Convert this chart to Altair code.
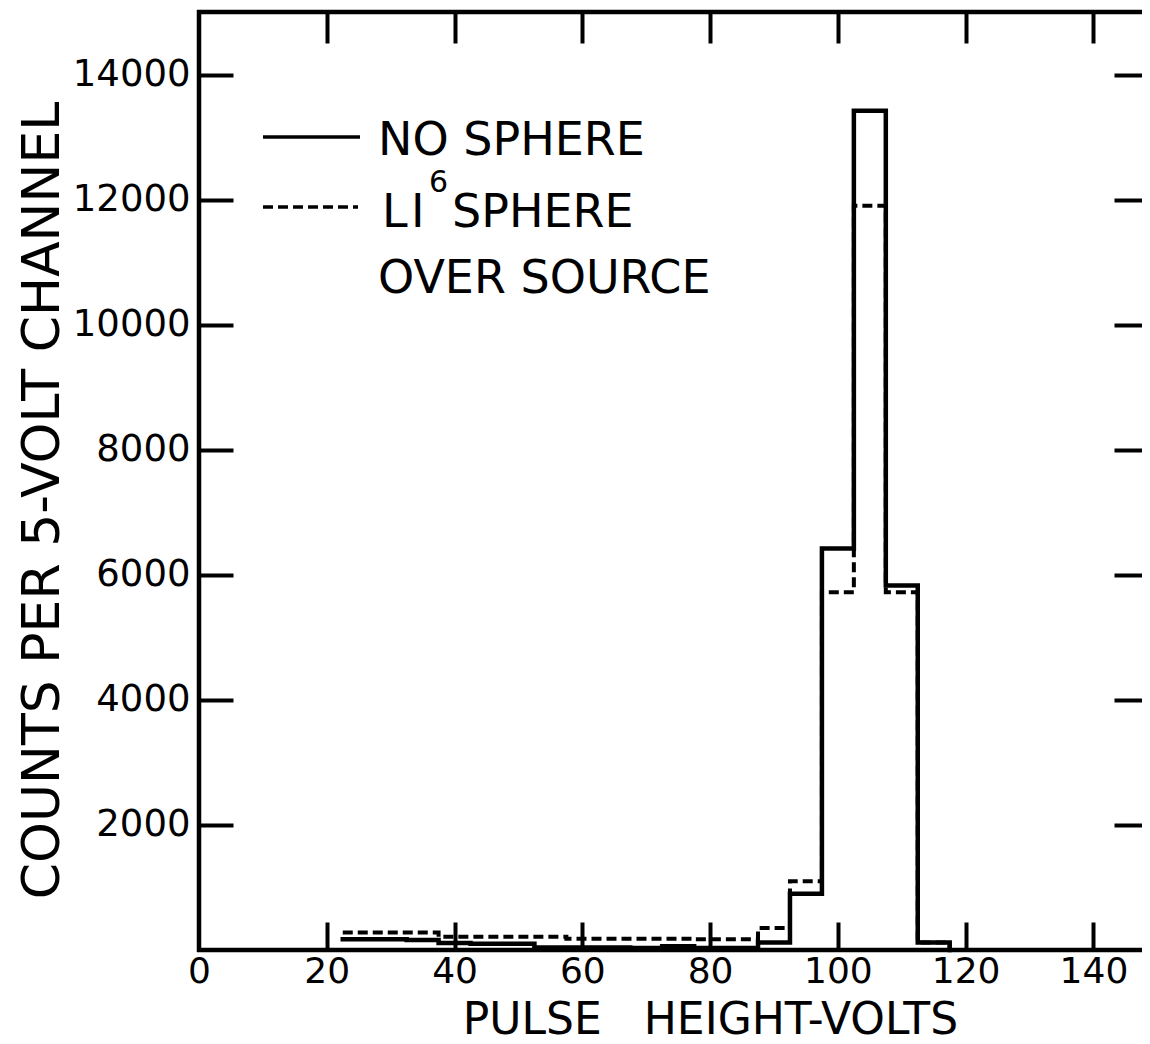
import altair as alt
import pandas as pd

# channel lower edges (volts) and counts per 5-volt channel; last point closes the step to 0
edges = [22.5, 27.5, 32.5, 37.5, 42.5, 47.5, 52.5, 57.5, 62.5, 67.5,
         72.5, 77.5, 82.5, 87.5, 92.5, 97.5, 102.5, 107.5, 112.5, 117.5]
no_sphere = [170, 170, 160, 110, 100, 100, 40, 40, 40, 30,
             60, 30, 30, 120, 900, 6420, 13420, 5830, 120, 0]
li6_sphere = [280, 280, 280, 210, 210, 210, 210, 180, 180, 180,
              180, 170, 170, 350, 1100, 5720, 11900, 5720, 120, 0]

x_labels = [0, 20, 40, 60, 80, 100, 120, 140]
x_ticks = [20, 40, 60, 80, 100, 120, 140]
y_labels = [2000, 4000, 6000, 8000, 10000, 12000, 14000]

rows = []
for e, v in zip(edges, no_sphere):
    rows.append({"volts": e, "counts": v, "series": "NO SPHERE"})
for e, v in zip(edges, li6_sphere):
    rows.append({"volts": e, "counts": v, "series": "LI6 SPHERE OVER SOURCE"})
df = pd.DataFrame(rows)

FONT = "DejaVu Sans"
W, H = 943, 938
XDOM = alt.Scale(domain=[0, 147.6], nice=False, zero=False)
YDOM = alt.Scale(domain=[0, 15000], nice=False, zero=False)
NB = "\u00a0"

base = alt.Chart(df)

solid = base.transform_filter(alt.datum.series == "NO SPHERE").mark_line(
    interpolate="step-after", color="black", strokeWidth=4.5, strokeJoin="miter", strokeCap="square"
).encode(
    x=alt.X("volts:Q", scale=XDOM, axis=alt.Axis(
        orient="bottom", values=x_labels, format="d", ticks=False, domain=False, grid=False,
        labelFont=FONT, labelFontSize=36, labelColor="black", labelPadding=4,
        labelFlush=False,
        title="PULSE" + NB * 3 + "HEIGHT-VOLTS", titleFont=FONT, titleFontSize=44,
        titleFontWeight="normal", titleColor="black", titleX=511, titleY=83,
        titleBaseline="alphabetic", titleAlign="center")),
    y=alt.Y("counts:Q", scale=YDOM, axis=alt.Axis(
        orient="left", values=y_labels, format="d", ticks=False, domain=False, grid=False,
        labelFont=FONT, labelFontSize=37, labelColor="black", labelPadding=9,
        labelFlush=False,
        title="COUNTS PER 5-VOLT CHANNEL", titleFont=FONT, titleFontSize=52,
        titleFontWeight="normal", titleColor="black", titleAngle=270,
        titleX=-141, titleY=488, titleBaseline="alphabetic", titleAlign="center")),
)

dashed = base.transform_filter(alt.datum.series != "NO SPHERE").mark_line(
    interpolate="step-after", color="black", strokeWidth=4, strokeDash=[10, 5]
).encode(
    x=alt.X("volts:Q", scale=XDOM, axis=None),
    y=alt.Y("counts:Q", scale=YDOM, axis=None),
)

ticks_bl = base.mark_line(opacity=0).encode(
    x=alt.X("volts:Q", scale=XDOM, axis=alt.Axis(
        orient="bottom", values=x_ticks, offset=-28, tickSize=28, tickWidth=4,
        tickColor="black", labels=False, domain=False, grid=False, title=None)),
    y=alt.Y("counts:Q", scale=YDOM, axis=alt.Axis(
        orient="left", values=y_labels, offset=-34, tickSize=34, tickWidth=4,
        tickColor="black", labels=False, domain=False, grid=False, title=None)),
)

ticks_tr = base.mark_line(opacity=0).encode(
    x=alt.X("volts:Q", scale=XDOM, axis=alt.Axis(
        orient="top", values=x_ticks, offset=-31, tickSize=31, tickWidth=4,
        tickColor="black", labels=False, domain=False, grid=False, title=None)),
    y=alt.Y("counts:Q", scale=YDOM, axis=alt.Axis(
        orient="right", values=y_labels, offset=-28, tickSize=28, tickWidth=4,
        tickColor="black", labels=False, domain=False, grid=False, title=None)),
)

# frame on top, left and bottom (the right edge lies beyond the picture)
frame_top = alt.Chart().mark_rule(color="black", strokeWidth=4.5).encode(
    x=alt.value(-2), x2=alt.value(W), y=alt.value(0))
frame_left = alt.Chart().mark_rule(color="black", strokeWidth=4.5).encode(
    x=alt.value(0), y=alt.value(-2), y2=alt.value(H + 2))
frame_bottom = alt.Chart().mark_rule(color="black", strokeWidth=4.5).encode(
    x=alt.value(-2), x2=alt.value(W), y=alt.value(H))

leg_solid = alt.Chart().mark_rule(color="black", strokeWidth=3.5).encode(
    x=alt.value(64), x2=alt.value(161), y=alt.value(125))
leg_dash = alt.Chart().mark_rule(color="black", strokeWidth=3.5, strokeDash=[10, 5]).encode(
    x=alt.value(64), x2=alt.value(159), y=alt.value(195))

def label(txt, x, y, size=46):
    return alt.Chart().mark_text(
        text=txt, font=FONT, fontSize=size, align="left", baseline="alphabetic", color="black"
    ).encode(x=alt.value(x), y=alt.value(y))

legend = (label("NO SPHERE", 179, 143) + label("L", 183, 215) + label("I", 212, 215)
          + label("6", 230, 180, 30) + label("SPHERE", 253, 215) + label("OVER SOURCE", 179, 281))

chart = alt.layer(
    solid, dashed, ticks_bl, ticks_tr, frame_top, frame_left, frame_bottom,
    leg_solid, leg_dash, legend
).resolve_axis(
    x="independent", y="independent"
).properties(
    width=W, height=H,
    autosize=alt.AutoSizeParams(type="none"),
    padding={"left": 191, "top": 4, "right": 0, "bottom": 100},
).configure_view(
    stroke=None
).configure_axis(grid=False)

chart.save("out.html", embed_options={"renderer": "svg", "actions": False})
